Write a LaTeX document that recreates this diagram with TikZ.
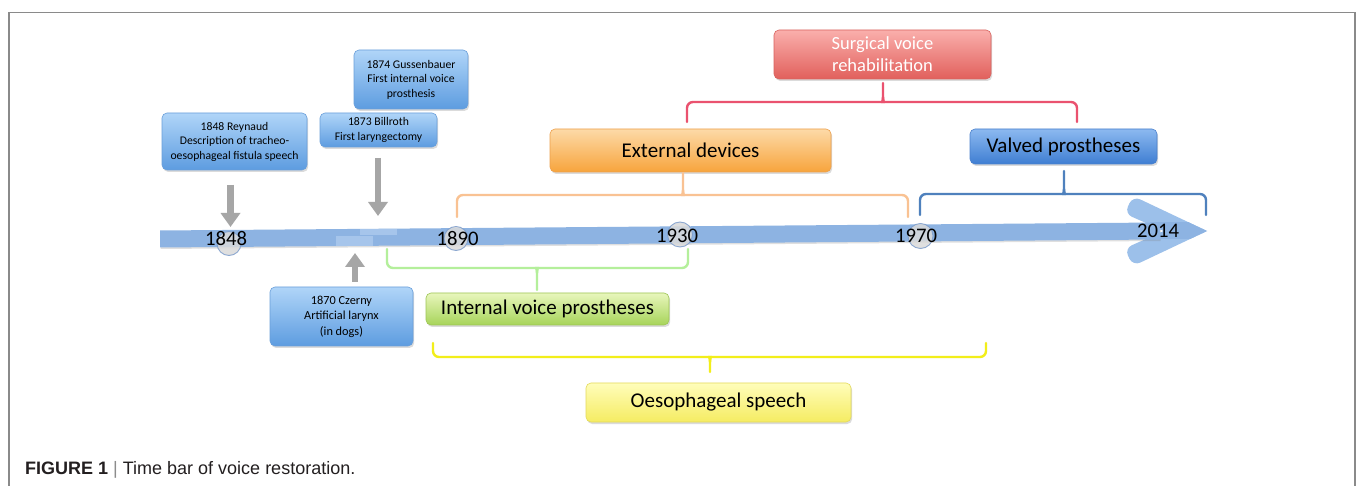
\documentclass[tikz,border=0pt]{standalone}
\usepackage{fontspec}
\setmainfont{Carlito}
\newfontfamily\capfont{Liberation Sans}
\usetikzlibrary{shadows,arrows.meta}
\newcommand\myfs[2]{\fontsize{#1pt}{#2pt}\selectfont}
\definecolor{framegray}{HTML}{8A8A8A}
\definecolor{barblue}{HTML}{8DB3E2}
\definecolor{barlight}{HTML}{A6C5EB}
\definecolor{headblue}{HTML}{9CC0EA}
\definecolor{circfill}{HTML}{DADADA}
\definecolor{circedge}{HTML}{7C9CCB}
\definecolor{arrgray}{HTML}{A6A6A6}
\definecolor{sbtop}{HTML}{B0D5F8}
\definecolor{sbbot}{HTML}{5D9CE0}
\definecolor{sbedge}{HTML}{6A9FDA}
\definecolor{vbtop}{HTML}{8CB9F0}
\definecolor{vbbot}{HTML}{3F7ED2}
\definecolor{vbedge}{HTML}{4A80CC}
\definecolor{rdtop}{HTML}{FAAFAC}
\definecolor{rdbot}{HTML}{E1605C}
\definecolor{rdedge}{HTML}{D8625E}
\definecolor{ortop}{HTML}{FDDAA8}
\definecolor{orbot}{HTML}{F7A43C}
\definecolor{oredge}{HTML}{EDA04C}
\definecolor{grtop}{HTML}{E8F6BC}
\definecolor{grbot}{HTML}{A7D45A}
\definecolor{gredge}{HTML}{9DC555}
\definecolor{yltop}{HTML}{FFFDBA}
\definecolor{ylbot}{HTML}{F5EC62}
\definecolor{yledge}{HTML}{E3DA5C}
\definecolor{brred}{HTML}{EA526F}
\definecolor{brorange}{HTML}{F9C293}
\definecolor{brblue}{HTML}{4F81BD}
\definecolor{brgreen}{HTML}{B4EF9B}
\definecolor{bryellow}{HTML}{F2EE1A}
\definecolor{captext}{HTML}{231F20}
\definecolor{capbar}{HTML}{8C8C8C}
% brace: color, xl, xc, xr, yend, yh, ytip, dir(-1 up / +1 down)
\newcommand\mybrace[8]{%
  \draw[brc,#1] (#2,#5) [rounded corners=6pt] -- (#2,#6) -- (#3-6,#6) [sharp corners]
     .. controls (#3-1.5,#6) and (#3,#6+1.5*#8) .. (#3,#6+5*#8) -- (#3,#7);
  \draw[brc,#1] (#4,#5) [rounded corners=6pt] -- (#4,#6) -- (#3+6,#6) [sharp corners]
     .. controls (#3+1.5,#6) and (#3,#6+1.5*#8) .. (#3,#6+5*#8);
}
\newcommand\headpath{(1207,231) [rounded corners=8pt] -- (1133,196) -- (1124.5,213.5) [sharp corners]
  -- (1164,231) [rounded corners=8pt] -- (1124.5,248.5) -- (1133,266) [sharp corners] -- cycle}
\begin{document}
\begin{tikzpicture}[x=1pt,y=-1pt,
  card/.style={rounded corners=5pt, inner sep=0pt, align=center, line width=0.6pt,
    drop shadow={shadow xshift=1.2pt, shadow yshift=-2pt, opacity=0.28}},
  smallblue/.style={card, top color=sbtop, bottom color=sbbot, draw=sbedge, font=\myfs{11.7}{14.5}},
  valvbox/.style={card, top color=vbtop, bottom color=vbbot, draw=vbedge, font=\myfs{21}{24}},
  redbox/.style={card, top color=rdtop, bottom color=rdbot, draw=rdedge, text=white, font=\myfs{18.5}{22}},
  orbox/.style={card, top color=ortop, bottom color=orbot, draw=oredge, font=\myfs{21}{24}},
  grbox/.style={card, top color=grtop, bottom color=grbot, draw=gredge, font=\myfs{21}{24}},
  ylbox/.style={card, top color=yltop, bottom color=ylbot, draw=yledge, font=\myfs{21}{24}},
  brc/.style={line width=2.4pt, line cap=round},
  grayarrow/.style={draw=arrgray, line width=6.5pt, -{Triangle[width=19pt,length=14pt]}},
  yearcirc/.style={circle, fill=circfill, fill opacity=0.85, draw=circedge, draw opacity=0.85,
    line width=0.9pt, minimum size=24pt, inner sep=0pt},
  yearlab/.style={inner sep=0pt, font=\myfs{20.7}{22}}
]
\useasboundingbox (0,0) rectangle (1358,486);
\fill[white] (0,0) rectangle (1358,486);
% frame
\draw[framegray, line width=1.3pt] (9,486) -- (9,12.5) -- (1355,12.5) -- (1355,486);

% arrow head, then the time bar running into it
\fill[headblue] \headpath;
\fill[barblue, drop shadow={shadow xshift=0.5pt, shadow yshift=-1.5pt, opacity=0.25}]
  (160,230.5) -- (1160,222.5) -- (1160,239.5) -- (160,247.5) -- cycle;
\begin{scope}
  \clip \headpath;
  \fill[barblue] (1150,222.5) rectangle (1212,239.5);
\end{scope}
\fill[barlight] (336,236.5) rectangle (373,246.5);
\fill[barlight] (360,229.5) rectangle (397,235);

% year circles
\node[yearcirc] (c1848) at (229,243.5) {};
\node[yearcirc] (c1890) at (456,238.5) {};
\node[yearcirc, minimum size=25pt] (c1930) at (680,234.5) {};
\node[yearcirc, minimum size=25pt] (c1970) at (920.5,236) {};

% year labels
\node[yearlab] (y1848) at (226,238.5) {1848};
\node[yearlab] (y1890) at (457.5,238.5) {1890};
\node[yearlab] (y1930) at (677,236) {1930};
\node[yearlab] (y1970) at (916,235.5) {1970};
\node[yearlab] (y2014) at (1158,230.5) {2014};

% event boxes
\node[smallblue, minimum width=145pt, minimum height=57pt] (reyn) at (234.5,141.5)
  {1848 Reynaud\\Description of tracheo-\\oesophageal fistula speech};
\node[smallblue, minimum width=114pt, minimum height=59pt] (guss) at (411,79.5)
  {1874 Gussenbauer\\First internal voice\\prosthesis};
\node[smallblue, minimum width=117pt, minimum height=34pt] (bill) at (378.5,130)
  {1873 Billroth\\First laryngectomy};
\node[smallblue, font=\myfs{12.3}{15.5}, minimum width=143pt, minimum height=59pt] (czer) at (341.5,316.5)
  {1870 Czerny\\Artificial larynx\\(in dogs)};

% category boxes
\node[redbox, minimum width=217pt, minimum height=49pt] (surg) at (882.5,54.5)
  {Surgical voice\\rehabilitation};
\node[orbox, minimum width=281pt, minimum height=43pt] (ext) at (690.5,150.5) {External devices};
\node[valvbox, minimum width=187pt, minimum height=35pt] (valv) at (1063.5,146.5) {Valved prostheses};
\node[grbox, minimum width=243pt, minimum height=32pt] (intl) at (547.5,309) {Internal voice prostheses};
\node[ylbox, minimum width=265pt, minimum height=39pt] (oeso) at (718.5,402.5) {Oesophageal speech};

% gray arrows
\coordinate (a1s) at (230.5,185);
\coordinate (a1e) at (230.5,227);
\coordinate (a2s) at (378,158);
\coordinate (a2e) at (378,216);
\coordinate (a3s) at (355,282);
\coordinate (a3e) at (355,253);
\draw[grayarrow] (a1s) -- (a1e);
\draw[grayarrow] (a2s) -- (a2e);
\draw[grayarrow] (a3s) -- (a3e);

% braces
\mybrace{brred}{687}{883}{1077}{122}{102}{83}{-1}
\mybrace{brorange}{457}{683}{908}{217}{195}{173}{-1}
\mybrace{brblue}{920}{1064}{1206}{215}{194}{171}{-1}
\mybrace{brgreen}{387}{537}{688}{249}{268}{290}{1}
\mybrace{bryellow}{433}{710}{986}{343}{357}{372}{1}

% caption
\node[anchor=base west, inner sep=0pt, text=captext, font=\capfont\myfs{18}{20}] (cap) at (25,474)
  {\textbf{FIGURE 1} {\color{capbar}|} Time bar of voice restoration.};
\end{tikzpicture}
\end{document}
